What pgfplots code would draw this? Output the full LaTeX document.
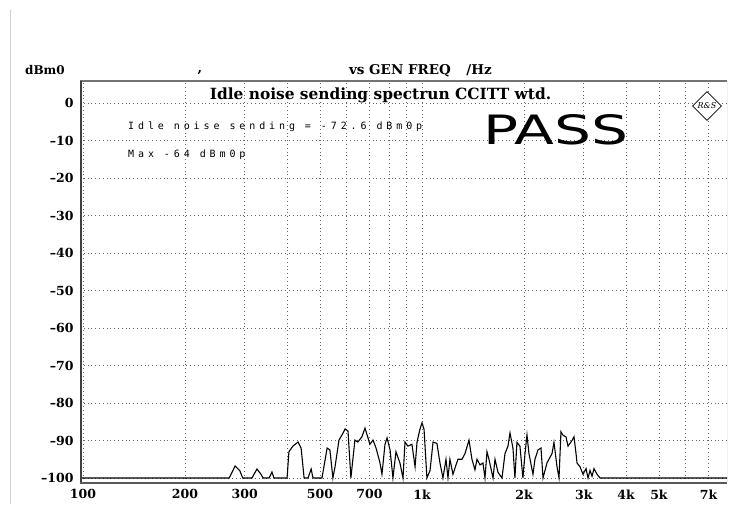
\documentclass[border=0pt]{standalone}
\usepackage{pgfplots}
\pgfplotsset{compat=1.18}
\usepackage{fontspec}
\usetikzlibrary{shapes.geometric}
\setmainfont{DejaVu Serif}
\newfontfamily\lbl{DejaVu Serif}
\newfontfamily\smallmono[LetterSpace=39]{DejaVu Sans Mono}
\newfontfamily\passfont{DejaVu Sans}
\begin{document}
\begin{tikzpicture}[x=1pt,y=1pt]
\useasboundingbox (0,0) rectangle (751,504);
\draw[gray!35, line width=1pt] (10,0) -- (10,494);
\begin{axis}[
  at={(80pt,21pt)}, anchor=south west,
  scale only axis, width=647pt, height=402pt,
  xmode=log, log basis x=10,
  xmin=98, xmax=7940, ymin=-101.33, ymax=5.87,
  xtick={100,200,300,500,700,1000,2000,3000,4000,5000,7000},
  xticklabels={100,200,300,500,700,1k,2k,3k,4k,5k,7k},
  minor xtick={400,600,800,900,6000},
  ytick={-100,-90,-80,-70,-60,-50,-40,-30,-20,-10,0},
  yticklabels={–100,–90,–80,–70,–60,–50,–40,–30,–20,–10,0},
  grid=both,
  grid style={black!60, line width=0.7pt, dash pattern=on 0.8pt off 3pt},
  minor grid style={black!60, line width=0.7pt, dash pattern=on 0.8pt off 3pt},
  major tick length=0pt, minor tick length=0pt,
  axis line style={draw=none},
  tick label style={font=\lbl\bfseries\fontsize{12.5}{12.5}\selectfont},
  xticklabel style={yshift=-3pt},
  yticklabel style={xshift=-3pt},
  clip=true,
]
\addplot[black, line width=1.1pt] coordinates {
(98,-100) (270,-100) (281,-96.8) (290,-98) (296,-100) (315,-100) (326,-97.6)
(335,-99) (340,-100) (354,-100) (361,-98.4) (366,-100) (400,-100) (405,-93)
(416,-91.5) (431,-90.4) (440,-92) (449,-100) (461,-100) (471,-97.6) (477,-100)
(507,-100) (525,-92) (535,-92.5) (546,-100) (554,-97) (569,-89.9) (585,-88)
(593,-86.9) (605,-87.5) (617,-100) (634,-89.9) (647,-90.4) (665,-89) (679,-86.7)
(693,-89.3) (702,-91) (717,-89.9) (732,-92) (752,-96) (762,-99) (778,-91)
(789,-89.3) (805,-92.5) (821,-100) (838,-93) (861,-96) (879,-100) (891,-90.4)
(909,-91.5) (934,-91) (954,-97) (967,-90.4) (986,-87) (1000,-85.3) (1014,-87)
(1034,-100) (1056,-98) (1078,-90.4) (1107,-90.8) (1130,-96) (1153,-100)
(1177,-95) (1193,-100) (1209,-95) (1234,-99) (1260,-96.5) (1277,-95) (1312,-95)
(1339,-93.5) (1376,-89.9) (1404,-95) (1433,-97.8) (1453,-95) (1483,-96.5)
(1513,-96) (1534,-100) (1555,-93) (1576,-95) (1598,-97.5) (1620,-100)
(1642,-95) (1676,-98.5) (1722,-100) (1757,-93.5) (1793,-91.5) (1818,-88)
(1855,-92) (1880,-100) (1906,-90.5) (1945,-91.5) (1985,-100) (2013,-93.5)
(2040,-88.5) (2068,-93.5) (2125,-99) (2154,-95) (2199,-92.5) (2244,-92)
(2275,-100) (2337,-96) (2418,-93.5) (2451,-90.5) (2502,-97) (2536,-100)
(2570,-87.7) (2606,-88.6) (2659,-89) (2696,-91.5) (2770,-90) (2808,-89)
(2847,-93.5) (2866,-96) (2925,-97) (2985,-99) (3047,-97.5) (3089,-100)
(3131,-98) (3174,-99.5) (3217,-97.5) (3284,-99) (3351,-100) (7940,-100)
};
\draw[black!55, line width=2.5pt] (rel axis cs:0,1) -- (rel axis cs:1,1);
\draw[black!45, line width=1pt] (rel axis cs:1,0) -- (rel axis cs:1,1);
\draw[black!75, line width=3pt] (rel axis cs:0,0) -- (rel axis cs:0,1);
\draw[black!65, line width=3pt] (rel axis cs:0,0) -- (rel axis cs:1,0);
\end{axis}
\node[anchor=base, inner sep=0, font=\lbl\bfseries\fontsize{12}{12}\selectfont] at (45,429) {dBm0};
\node[anchor=base, inner sep=0, font=\lbl\bfseries\fontsize{13}{13}\selectfont] at (200,431) {,};
\node[anchor=base, inner sep=0, font=\lbl\bfseries\fontsize{13.5}{13.5}\selectfont] at (400,429) {vs GEN FREQ};
\node[anchor=base, inner sep=0, font=\lbl\bfseries\fontsize{13.5}{13.5}\selectfont] at (479,429) {/Hz};
\node[anchor=base, inner sep=0, font=\lbl\bfseries\fontsize{15.4}{15.4}\selectfont] at (380.5,404) {Idle noise sending spectrun CCITT wtd.};
\node[anchor=base west, inner sep=0, font=\smallmono\fontsize{10}{10}\selectfont] at (128,374) {Idle noise sending = -72.6 dBm0p};
\node[anchor=base west, inner sep=0, font=\smallmono\fontsize{10}{10}\selectfont] at (128,346) {Max -64 dBm0p};
\node[anchor=center, inner sep=0] at (556,374) {\resizebox{145pt}{30pt}{\passfont PASS}};
\node[diamond, draw=black, line width=0.6pt, minimum size=29pt, inner sep=0, fill=white,
      font=\itshape\fontsize{8}{8}\selectfont] at (707,398) {R\&S};
\end{tikzpicture}
\end{document}
